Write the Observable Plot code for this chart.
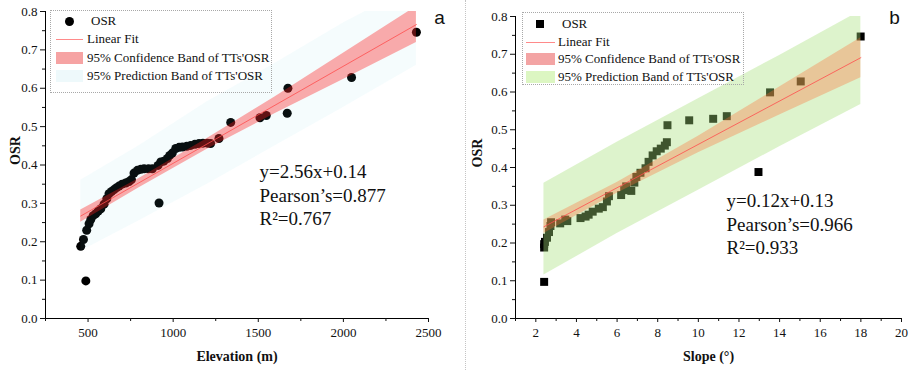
<!DOCTYPE html>
<html><head><meta charset="utf-8">
<script src="https://cdn.jsdelivr.net/npm/d3@7"></script>
<script src="https://cdn.jsdelivr.net/npm/@observablehq/plot@0.6"></script>
<style>
body{margin:0;background:#fff;}
#wrap{display:flex;width:922px;height:370px;}
.panel{position:relative;width:461px;height:370px;}
.legend{position:absolute;border:1px dotted #a8a8a8;box-sizing:border-box;color:#111;}
.legend .t{position:absolute;line-height:16px;white-space:nowrap;font-size:13px;}
.legend .sw{position:absolute;}
.sep{position:absolute;left:4px;top:0;height:370px;border-left:1px dotted #c4c4c4;}
</style></head><body>
<div id="wrap"><div class="panel" id="pa"></div><div class="panel" id="pb"></div></div>
<script>
// ---------- Panel a: Elevation vs OSR ----------
const elevation = [457,473,487,492,506,516,530,545,560,575,594,610,623,638,653,668,682,700,721,741,755,770,790,810,829,855,878,911,917,927,945,966,980,995,1015,1035,1054,1080,1103,1128,1152,1175,1201,1220,1269,1338,1510,1547,1670,1674,2048,2429];
const osrA      = [0.188,0.206,0.098,0.230,0.247,0.258,0.268,0.273,0.280,0.286,0.298,0.312,0.325,0.331,0.336,0.341,0.345,0.350,0.353,0.357,0.362,0.379,0.386,0.389,0.390,0.390,0.390,0.399,0.301,0.408,0.410,0.417,0.425,0.431,0.443,0.446,0.447,0.449,0.451,0.454,0.456,0.457,0.457,0.456,0.469,0.511,0.523,0.529,0.535,0.600,0.628,0.746];
const bandXA   = [457, 800, 1200, 1600, 2000, 2429];
const confLoA  = [0.251,0.341,0.441,0.534,0.623,0.719];
const confHiA  = [0.283,0.365,0.469,0.578,0.691,0.813];
const predLoA  = [0.175,0.255,0.350,0.450,0.550,0.660];
const predHiA  = [0.360,0.450,0.565,0.665,0.770,0.870];
const fitXA = [457, 2429];
const fitYA = [0.267, 0.766];
const xTicksA = [500,1000,1500,2000,2500];
const xMinorA = [250,750,1250,1750,2250];
const annoA = ["y=2.56x+0.14","Pearson’s=0.877","R²=0.767"];

// ---------- Panel b: Slope vs OSR ----------
const slope = [2.41,2.41,2.41,2.45,2.55,2.65,2.72,2.75,3.2,3.45,3.55,4.2,4.45,4.6,4.8,5.1,5.3,5.5,5.6,6.2,6.35,6.45,6.7,6.85,6.95,7.15,7.4,7.55,7.75,7.95,8.15,8.35,8.45,8.48,9.55,10.73,11.4,12.96,13.53,15.04,17.99];
const osrB  = [0.097,0.188,0.197,0.203,0.214,0.229,0.245,0.255,0.252,0.262,0.258,0.266,0.270,0.275,0.283,0.291,0.295,0.310,0.324,0.327,0.340,0.350,0.338,0.360,0.375,0.386,0.398,0.415,0.432,0.443,0.450,0.458,0.467,0.512,0.525,0.529,0.536,0.388,0.599,0.628,0.747];
const bandXB  = [2.4, 6, 10, 14, 18];
const confLoB = [0.225,0.332,0.439,0.539,0.638];
const confHiB = [0.261,0.360,0.483,0.613,0.744];
const predLoB = [0.115,0.225,0.340,0.455,0.567];
const predHiB = [0.358,0.467,0.582,0.697,0.815];
const fitXB = [2.4, 18];
const fitYB = [0.243, 0.691];
const xTicksB = [2,4,6,8,10,12,14,16,18,20];
const xMinorB = [1,3,5,7,9,11,13,15,17,19];
const annoB = ["y=0.12x+0.13","Pearson’s=0.966","R²=0.933"];

// shared
const yTicks = [0,0.1,0.2,0.3,0.4,0.5,0.6,0.7,0.8];
const yMinor = [0.05,0.15,0.25,0.35,0.45,0.55,0.65,0.75];
const yLabel = "OSR";
const legendLabels = ["OSR","Linear Fit","95% Confidence Band of TTs'OSR","95% Prediction Band of TTs'OSR"];

const serif = "'Liberation Serif', 'Times New Roman', serif";

function build(cfg) {
  const pts = cfg.xs.map((x, i) => ({x, y: cfg.ys[i]}));
  const band = cfg.bx.map((x, i) => ({x, clo: cfg.clo[i], chi: cfg.chi[i], plo: cfg.plo[i], phi: cfg.phi[i]}));
  const fit = cfg.fx.map((x, i) => ({x, y: cfg.fy[i]}));
  return Plot.plot({
    width: 461, height: 370,
    marginLeft: cfg.ml, marginRight: cfg.mr, marginTop: cfg.mt, marginBottom: 52,
    style: {fontFamily: serif, fontSize: "13px", color: "#111", background: "transparent", overflow: "visible"},
    x: {domain: cfg.xdom},
    y: {domain: [0, 0.8]},
    marks: [
      Plot.dot(pts, {x: "x", y: "y", r: 4.5, symbol: cfg.symbol, fill: "#000", stroke: "none"}),
      Plot.areaY(band, {x: "x", y1: "plo", y2: "phi", fill: cfg.predFill, fillOpacity: cfg.predOp, clip: true}),
      Plot.areaY(band, {x: "x", y1: "clo", y2: "chi", fill: cfg.confFill, fillOpacity: cfg.confOp, clip: true}),
      Plot.line(fit, {x: "x", y: "y", stroke: "#ff4d4d", strokeWidth: 1, strokeOpacity: 0.8, clip: true}),
      Plot.ruleY([0], {stroke: "#000"}),
      Plot.ruleX([cfg.xdom[0]], {stroke: "#000"}),
      Plot.axisY({ticks: yTicks, tickFormat: d3.format(".1f"), tickSize: 5, tickPadding: 3, label: null, fontSize: 13, fontFamily: serif}),
      Plot.axisY({ticks: yMinor, tickSize: 3, text: null, label: null}),
      Plot.axisX({ticks: cfg.xt, tickFormat: d3.format("d"), tickSize: 4, tickPadding: 5, label: null, fontSize: 13, fontFamily: serif}),
      Plot.axisX({ticks: cfg.xm, tickSize: 3, text: null, label: null}),
      Plot.text([cfg.xlabel], {text: d => d, frameAnchor: "bottom", dy: 42, fontWeight: "bold", fontSize: 14, fontFamily: serif}),
      Plot.text([yLabel], {text: d => d, frameAnchor: "left", dx: cfg.ylabDx, rotate: -90, fontWeight: "bold", fontSize: 14, fontFamily: serif}),
      Plot.text([cfg.anno.join("\n")], {text: d => d, frameAnchor: "top-left", dx: cfg.annoDx, dy: cfg.annoDy, textAnchor: "start", lineAnchor: "top", fontSize: 19, lineHeight: 1.24, fill: "#111", fontFamily: serif}),
      Plot.text([cfg.tag], {text: d => d, frameAnchor: "top-right", dx: cfg.tagDx, dy: cfg.tagDy, textAnchor: "middle", lineAnchor: "middle", fontFamily: "'Liberation Sans', Arial, sans-serif", fontSize: 19})
    ]
  });
}

const plotA = build({
  xs: elevation, ys: osrA, bx: bandXA, clo: confLoA, chi: confHiA, plo: predLoA, phi: predHiA,
  fx: fitXA, fy: fitYA, xdom: [250, 2500], xt: xTicksA, xm: xMinorA,
  ml: 45, mr: 33, mt: 11, symbol: "circle",
  predFill: "#6fd0e4", predOp: 0.07, confFill: "#ff1a1a", confOp: 0.36,
  xlabel: "Elevation (m)", ylabDx: -30, anno: annoA, annoDx: 214, annoDy: 150,
  tag: "a", tagDx: 11, tagDy: 6
});
const plotB = build({
  xs: slope, ys: osrB, bx: bandXB, clo: confLoB, chi: confHiB, plo: predLoB, phi: predHiB,
  fx: fitXB, fy: fitYB, xdom: [1, 20], xt: xTicksB, xm: xMinorB,
  ml: 54, mr: 21, mt: 16, symbol: "square",
  predFill: "#a6e07a", predOp: 0.38, confFill: "#ff6a30", confOp: 0.33,
  xlabel: "Slope (°)", ylabDx: -38, anno: annoB, annoDx: 211, annoDy: 174,
  tag: "b", tagDx: -7, tagDy: 1
});

document.getElementById("pa").appendChild(plotA);
document.getElementById("pb").appendChild(plotB);

function legend(host, o) {
  const box = document.createElement("div");
  box.className = "legend";
  Object.assign(box.style, {left: o.left + "px", top: o.top + "px", width: o.w + "px", height: o.h + "px", fontFamily: serif});
  const rows = o.rows;
  let html = "";
  const s = o.symbol === "circle"
    ? `<div class="sw" style="left:${o.symX-4.5}px;top:${rows[0]-4.5}px;width:9px;height:9px;border-radius:50%;background:#000"></div>`
    : `<div class="sw" style="left:${o.symX-4}px;top:${rows[0]-4}px;width:8px;height:8px;background:#000"></div>`;
  html += s;
  html += `<div class="t" style="left:${o.osrX}px;top:${rows[0]-8}px">${legendLabels[0]}</div>`;
  html += `<div class="sw" style="left:${o.swL}px;top:${rows[1]}px;width:${o.swW}px;height:1px;background:#ff8a8a"></div>`;
  html += `<div class="t" style="left:${o.txtX}px;top:${rows[1]-8}px">${legendLabels[1]}</div>`;
  html += `<div class="sw" style="left:${o.swL}px;top:${rows[2]-6}px;width:${o.swW}px;height:12px;background:${o.confSw}"></div>`;
  html += `<div class="t" style="left:${o.txtX}px;top:${rows[2]-8}px">${legendLabels[2]}</div>`;
  html += `<div class="sw" style="left:${o.swL}px;top:${rows[3]-6}px;width:${o.swW}px;height:12px;background:${o.predSw}"></div>`;
  html += `<div class="t" style="left:${o.txtX}px;top:${rows[3]-8}px">${legendLabels[3]}</div>`;
  box.innerHTML = html;
  box.querySelectorAll(".t").forEach(el => { el.style.fontFamily = serif; });
  host.appendChild(box);
}
legend(document.getElementById("pa"), {left: 50, top: 10, w: 222, h: 83, rows: [10, 28, 47, 65],
  symbol: "circle", symX: 18, osrX: 40, swL: 5, swW: 27, txtX: 36, confSw: "#f6a3a3", predSw: "#eef9fb"});
legend(document.getElementById("pb"), {left: 61, top: 12, w: 222, h: 73, rows: [10.5, 28.5, 46, 63.5],
  symbol: "square", symX: 17, osrX: 39, swL: 3, swW: 29, txtX: 35, confSw: "#f3a4a4", predSw: "#dcf6c2"});

const sep = document.createElement("div");
sep.className = "sep";
document.getElementById("pb").appendChild(sep);
</script>
</body></html>
